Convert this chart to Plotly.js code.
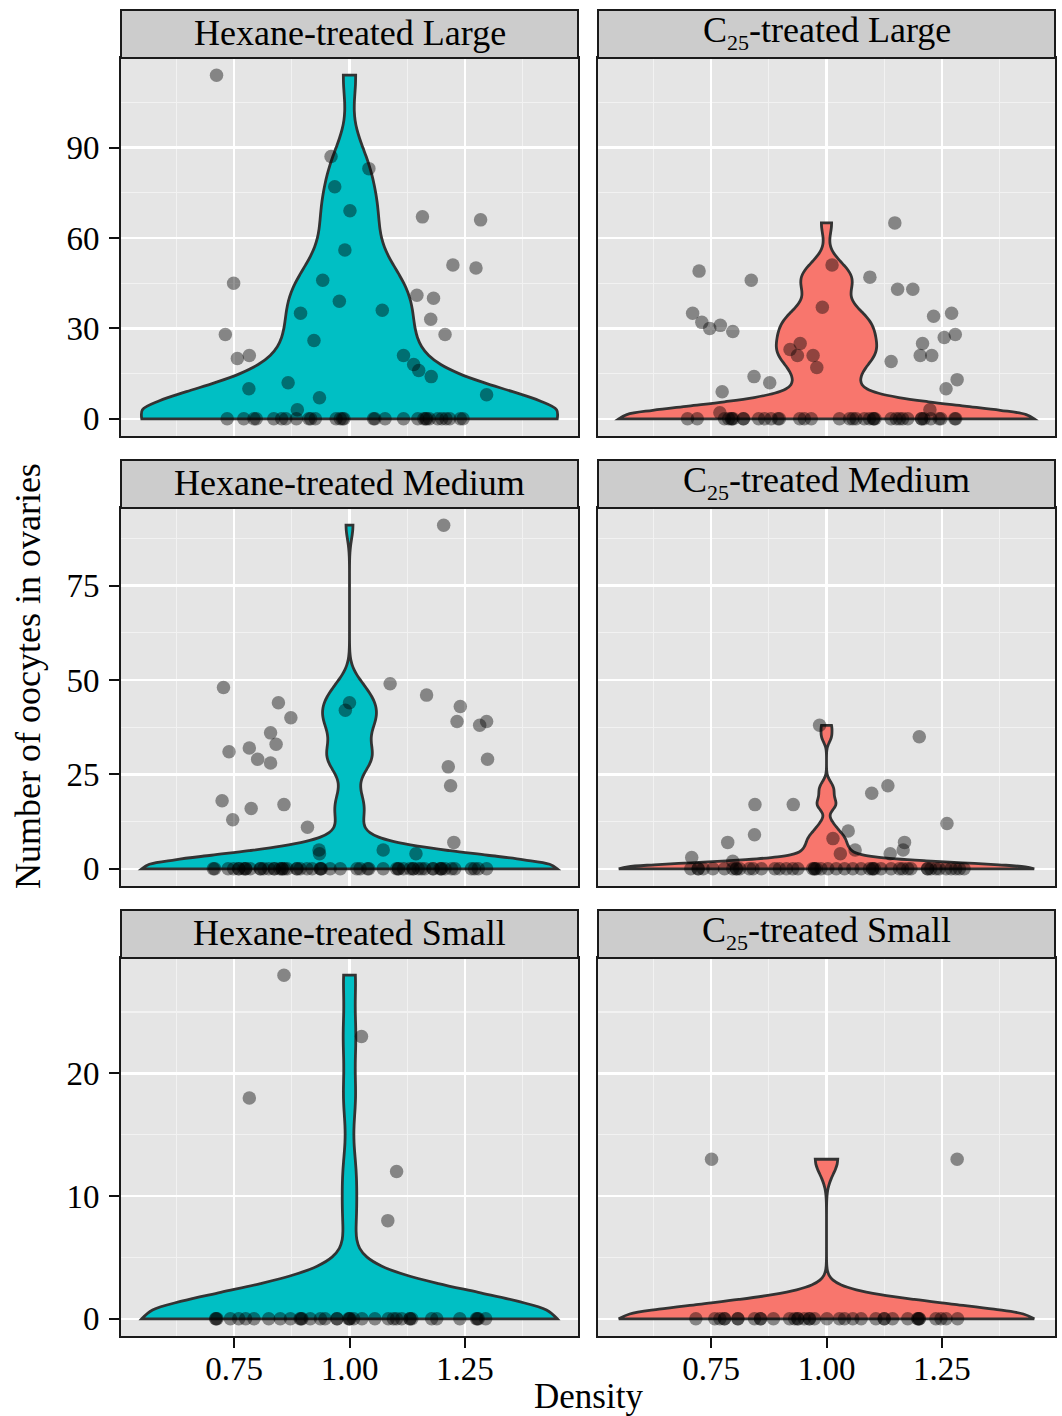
<!DOCTYPE html>
<html>
<head>
<meta charset="utf-8">
<script src="https://cdn.plot.ly/plotly-3.0.1.min.js"></script>
<style>html,body{margin:0;padding:0;background:#fff;}#chart{width:1062px;height:1416px;}</style>
</head>
<body>
<div id="chart"></div>
<script>
// ---------- DATA ----------
const panelTitles = ["Hexane-treated Large", "C<sub><span style='font-size:22px'>25</span></sub>-treated Large",
                     "Hexane-treated Medium", "C<sub><span style='font-size:22px'>25</span></sub>-treated Medium",
                     "Hexane-treated Small", "C<sub><span style='font-size:22px'>25</span></sub>-treated Small"];
const panelColors = ["#00BFC4", "#F8766D", "#00BFC4", "#F8766D", "#00BFC4", "#F8766D"];
const rowTickStep = [30, 25, 10];

// Hexane-treated Large
const hexLargeX = [0.712,0.960,1.042,0.968,1.001,1.158,1.284,0.990,1.224,1.274,0.942,0.749,0.978,1.146,1.182,1.071,0.894,1.176,0.731,1.207,0.923,0.757,0.783,1.117,1.139,1.150,1.177,0.782,0.867,1.297,0.935,0.887,
  0.735,0.771,0.793,0.798,0.836,0.853,0.862,0.885,0.912,0.916,0.926,0.971,0.980,0.988,1.052,1.055,1.077,1.117,1.148,1.161,1.167,1.173,1.191,1.200,1.209,1.217,1.240,1.246,0.985,1.165];
const hexLargeY = [114,87,83,77,69,67,66,56,51,50,46,45,39,41,40,36,35,33,28,28,26,20,21,21,18,16,14,10,12,8,7,3,
  0,0,0,0,0,0,0,0,0,0,0,0,0,0,0,0,0,0,0,0,0,0,0,0,0,0,0,0,0,0];

// C25-treated Large
const c25LargeX = [1.148,1.012,0.724,0.837,1.094,1.154,1.187,0.991,0.710,1.271,1.232,0.730,0.770,0.747,0.797,1.279,1.255,1.208,0.943,0.921,0.937,1.203,1.228,0.971,0.979,1.140,0.843,1.283,0.877,1.259,0.774,0.769,1.224,
  0.699,0.720,0.779,0.788,0.794,0.798,0.820,0.853,0.866,0.880,0.895,0.898,0.942,0.952,0.967,1.028,1.050,1.057,1.064,1.082,1.093,1.102,1.105,1.140,1.151,1.158,1.165,1.176,1.206,1.211,1.226,1.244,1.248,1.278,1.280,
  0.795,0.820,1.102,1.206];
const c25LargeY = [65,51,49,46,47,43,43,37,35,35,34,32,31,30,29,28,27,25,25,23,21,21,21,21,17,19,14,13,12,10,9,2,3,
  0,0,0,0,0,0,0,0,0,0,0,0,0,0,0,0,0,0,0,0,0,0,0,0,0,0,0,0,0,0,0,0,0,0,0,
  0,0,0,0];

// Hexane-treated Medium
const hexMediumX = [1.204,1.088,0.727,1.167,0.846,1.000,0.991,1.240,0.873,1.233,1.297,1.282,0.829,0.841,0.783,0.739,0.801,0.829,1.299,1.214,1.219,0.724,0.787,0.858,0.747,0.909,1.226,0.934,0.935,1.073,1.144,
  0.705,0.708,0.737,0.749,0.760,0.771,0.775,0.785,0.807,0.814,0.825,0.837,0.849,0.854,0.859,0.865,0.886,0.893,0.908,0.919,0.937,0.939,0.958,0.980,1.016,1.023,1.039,1.073,1.102,1.106,1.117,1.131,1.138,1.149,1.156,1.163,1.181,1.196,1.199,1.207,1.221,1.228,1.264,1.271,1.279,1.297,
  0.760,0.775,0.807,0.837,0.854,0.886,0.937,1.042,1.106,1.138,1.181,1.199];
const hexMediumY = [91,49,48,46,44,44,42,43,40,39,39,38,36,33,32,31,29,28,29,27,22,18,16,17,13,11,7,5,4,5,4,
  0,0,0,0,0,0,0,0,0,0,0,0,0,0,0,0,0,0,0,0,0,0,0,0,0,0,0,0,0,0,0,0,0,0,0,0,0,0,0,0,0,0,0,0,0,0,
  0,0,0,0,0,0,0,0,0,0,0,0];

// C25-treated Medium
const c25MediumX = [0.985,1.201,1.133,1.098,0.845,0.928,1.261,1.047,0.844,1.014,0.786,1.169,1.166,1.062,1.138,1.030,0.708,0.797,
  0.706,0.722,0.733,0.754,0.779,0.797,0.805,0.812,0.833,0.841,0.859,0.888,0.898,0.913,0.927,0.938,0.970,0.974,0.978,0.988,1.003,1.021,1.039,1.057,1.075,1.093,1.100,1.104,1.118,1.140,1.158,1.165,1.176,1.183,1.219,1.226,1.237,1.244,1.259,1.270,1.280,1.288,1.298,
  0.722,0.805,0.974,1.100,1.219];
const c25MediumY = [38,35,22,20,17,17,12,10,9,8,7,7,5,5,4,4,3,2,
  0,0,0,0,0,0,0,0,0,0,0,0,0,0,0,0,0,0,0,0,0,0,0,0,0,0,0,0,0,0,0,0,0,0,0,0,0,0,0,0,0,0,0,
  0,0,0,0,0];

// Hexane-treated Small
const hexSmallX = [0.858,1.026,0.783,1.102,1.083,
  0.710,0.713,0.742,0.760,0.775,0.793,0.825,0.850,0.872,0.893,0.897,0.915,0.937,0.947,0.973,0.998,1.001,1.009,1.027,1.055,1.084,1.095,1.102,1.113,1.131,1.135,1.178,1.189,1.239,1.275,1.279,1.295,
  0.711,0.895,0.973,1.000,1.131,1.277];
const hexSmallY = [28,23,18,12,8,
  0,0,0,0,0,0,0,0,0,0,0,0,0,0,0,0,0,0,0,0,0,0,0,0,0,0,0,0,0,0,0,0,
  0,0,0,0,0,0];

// C25-treated Small
const c25SmallX = [0.751,1.283,
  0.717,0.758,0.769,0.779,0.808,0.844,0.857,0.885,0.920,0.931,0.938,0.952,0.963,0.974,1.001,1.028,1.039,1.057,1.075,1.107,1.125,1.143,1.176,1.198,1.201,1.237,1.248,1.259,1.284,
  0.779,0.808,0.857,0.938,0.963,1.125,1.198,1.201];
const c25SmallY = [13,13,
  0,0,0,0,0,0,0,0,0,0,0,0,0,0,0,0,0,0,0,0,0,0,0,0,0,0,0,0,0,
  0,0,0,0,0,0,0,0];

const panelX = [hexLargeX, c25LargeX, hexMediumX, c25MediumX, hexSmallX, c25SmallX];
const panelY = [hexLargeY, c25LargeY, hexMediumY, c25MediumY, hexSmallY, c25SmallY];

// ---------- STYLE ----------
// kernel bandwidth of each violin (smoothing setting, chosen to match the reference outlines)
const violinBandwidth = [9, 4.3, 3.6, 1.6, 2.2, 1.2];

const W = 1062, H = 1416;
const colPx = [[121, 578], [598, 1055]];
const rowPx = [[58, 436], [508, 886], [958, 1336]];   // plot area top/bottom
const stripH = 48;
const FONT = "Liberation Serif, Times New Roman, serif";

const violinWidth = 0.9;
const xr = [1 - violinWidth / 2 - 0.05 * violinWidth, 1 + violinWidth / 2 + 0.05 * violinWidth];

const traces = [];
const layout = {
  width: W, height: H,
  margin: {l: 0, r: 0, t: 0, b: 0},
  paper_bgcolor: "#ffffff",
  plot_bgcolor: "#E5E5E5",
  font: {family: FONT, color: "#000000", size: 33},
  showlegend: false,
  shapes: [],
  annotations: []
};

for (let i = 0; i < 6; i++) {
  const r = Math.floor(i / 2), c = i % 2, k = i + 1;
  const xs = panelX[i], ys = panelY[i];
  const xa = "x" + (k === 1 ? "" : k), ya = "y" + (k === 1 ? "" : k);

  traces.push({
    type: "violin", x0: 1, y: ys, xaxis: xa, yaxis: ya,
    width: violinWidth, scalemode: "width", spanmode: "hard",
    bandwidth: violinBandwidth[i], points: false,
    fillcolor: panelColors[i], line: {color: "#333333", width: 2.8},
    box: {visible: false}, meanline: {visible: false},
    hoverinfo: "skip", showlegend: false
  });
  traces.push({
    type: "scatter", mode: "markers", x: xs, y: ys, xaxis: xa, yaxis: ya,
    marker: {size: 13.5, color: "rgba(0,0,0,0.42)", line: {width: 0}},
    hoverinfo: "skip", showlegend: false
  });

  // shared y range per row with 5% expansion
  const rowY = panelY[2 * r].concat(panelY[2 * r + 1]);
  const ymin = Math.min(...rowY), ymax = Math.max(...rowY), pad = 0.05 * (ymax - ymin);

  const bottomRow = r === 2, leftCol = c === 0;
  layout["xaxis" + (k === 1 ? "" : k)] = {
    domain: [colPx[c][0] / W, colPx[c][1] / W],
    anchor: ya, type: "linear", range: xr,
    tick0: 0, dtick: 0.25, tickformat: ".2f",
    showticklabels: bottomRow, ticks: bottomRow ? "outside" : "",
    ticklen: 10, tickwidth: 2, tickcolor: "#111",
    ticklabelstandoff: -8,
    tickfont: {size: 33, family: FONT, color: "#000"},
    showgrid: true, gridcolor: "#FFFFFF", gridwidth: 2.5,
    minor: {dtick: 0.125, tick0: 0, showgrid: true, gridcolor: "#F2F2F2", gridwidth: 1.3, ticks: ""},
    zeroline: false, showline: true, mirror: true, linecolor: "#1a1a1a", linewidth: 2,
    fixedrange: true
  };
  layout["yaxis" + (k === 1 ? "" : k)] = {
    domain: [1 - rowPx[r][1] / H, 1 - rowPx[r][0] / H],
    anchor: xa, type: "linear", range: [ymin - pad, ymax + pad],
    tick0: 0, dtick: rowTickStep[r],
    showticklabels: leftCol, ticks: leftCol ? "outside" : "",
    ticklen: 10, tickwidth: 2, tickcolor: "#111",
    ticklabelstandoff: 3,
    tickfont: {size: 33, family: FONT, color: "#000"},
    showgrid: true, gridcolor: "#FFFFFF", gridwidth: 2.5,
    minor: {dtick: rowTickStep[r] / 2, tick0: 0, showgrid: true, gridcolor: "#F2F2F2", gridwidth: 1.3, ticks: ""},
    zeroline: false, showline: true, mirror: true, linecolor: "#1a1a1a", linewidth: 2,
    fixedrange: true
  };

  // facet strip
  const sTop = rowPx[r][0] - stripH, sBot = rowPx[r][0];
  layout.shapes.push({
    type: "rect", xref: "paper", yref: "paper", layer: "above",
    x0: colPx[c][0] / W, x1: colPx[c][1] / W,
    y0: 1 - sBot / H, y1: 1 - sTop / H,
    fillcolor: "#CCCCCC", line: {color: "#1a1a1a", width: 2}
  });
  layout.annotations.push({
    xref: "paper", yref: "paper", showarrow: false,
    x: (colPx[c][0] + colPx[c][1]) / 2 / W, y: 1 - (sTop + sBot - 3) / 2 / H,
    xanchor: "center", yanchor: "middle",
    text: panelTitles[i], font: {size: 36, family: FONT, color: "#000"}
  });
}

// axis titles
layout.annotations.push({
  xref: "paper", yref: "paper", showarrow: false,
  x: (colPx[0][0] + colPx[1][1]) / 2 / W, y: 1 - 1396 / H,
  xanchor: "center", yanchor: "middle",
  text: "Density", font: {size: 35, family: FONT, color: "#000"}
});
layout.annotations.push({
  xref: "paper", yref: "paper", showarrow: false, textangle: -90,
  x: 28 / W, y: 1 - 676 / H,
  xanchor: "center", yanchor: "middle",
  text: "Number of oocytes in ovaries", font: {size: 36, family: FONT, color: "#000"}
});

Plotly.newPlot("chart", traces, layout, {staticPlot: true, displayModeBar: false});
</script>
</body>
</html>
